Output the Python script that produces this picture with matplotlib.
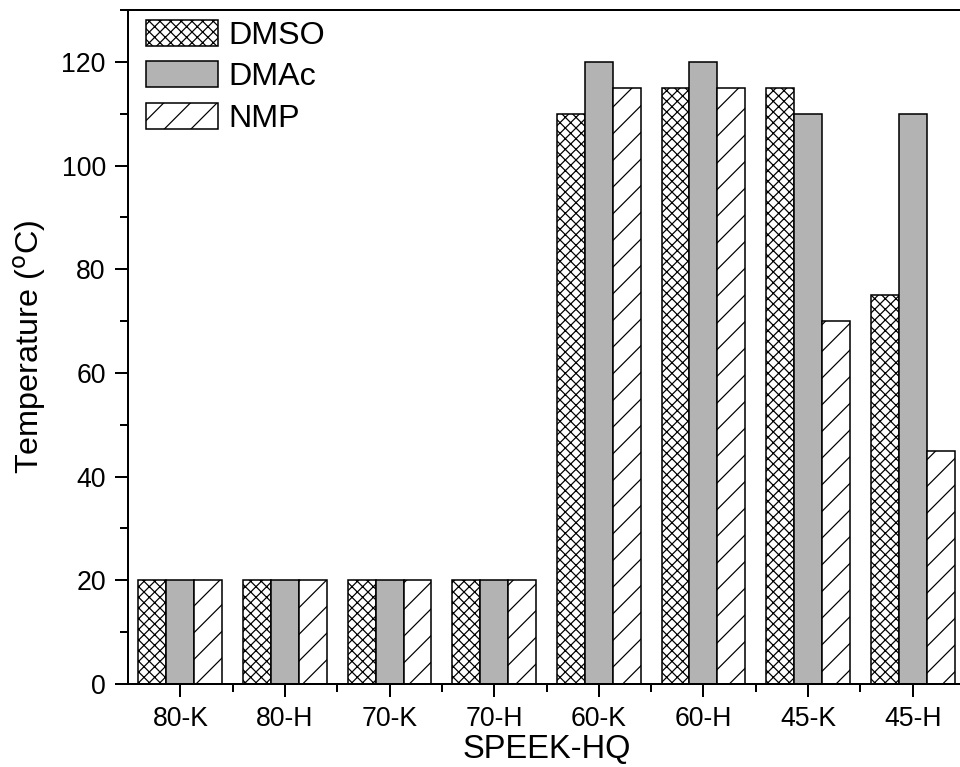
import matplotlib
matplotlib.use("Agg")
import matplotlib.pyplot as plt
import numpy as np
from matplotlib.ticker import MultipleLocator, FixedLocator

plt.rcParams['font.family'] = ['Liberation Sans', 'DejaVu Sans']
plt.rcParams['hatch.linewidth'] = 0.55

categories = ['80-K', '80-H', '70-K', '70-H', '60-K', '60-H', '45-K', '45-H']
dmso = [20, 20, 20, 20, 110, 115, 115, 75]
dmac = [20, 20, 20, 20, 120, 120, 110, 110]
nmp = [20, 20, 20, 20, 115, 115, 70, 45]
series_names = ['DMSO', 'DMAc', 'NMP']

dpi = 160
fig = plt.figure(figsize=(960 / dpi, 767 / dpi), dpi=dpi)
ax = fig.add_axes([128 / 960, (767 - 684) / 767, (965 - 128) / 960, (684 - 10) / 767])

x = np.arange(len(categories))
w = 0.8 / 3
styles = [dict(facecolor='white', hatch='xxxxx'),
          dict(facecolor='#b3b3b3', hatch=None),
          dict(facecolor='white', hatch='//')]
for i, (vals, name, st) in enumerate(zip([dmso, dmac, nmp], series_names, styles)):
    ax.bar(x + (i - 1) * w, vals, w, label=name, edgecolor='black', linewidth=0.7, **st)

ax.set_xlim(-0.5, len(categories) - 0.5)
ax.set_ylim(0, 130)
ax.set_xticks(x)
ax.set_xticklabels(categories)
ax.xaxis.set_minor_locator(FixedLocator(x[:-1] + 0.5))
ax.yaxis.set_major_locator(MultipleLocator(20))
ax.yaxis.set_minor_locator(MultipleLocator(10))
ax.tick_params(which='major', direction='out', length=6, width=0.9, labelsize=12, pad=4)
ax.tick_params(which='minor', direction='out', length=3.4, width=0.9)
for s in ax.spines.values():
    s.set_linewidth(0.9)

ax.set_xlabel('SPEEK-HQ', fontsize=14.7, labelpad=1)
ax.set_ylabel('Temperature ($^{\\mathrm{o}}$C)', fontsize=14.6, labelpad=6)

ax.legend(loc='upper left', bbox_to_anchor=(0.0096, 1.0), frameon=False, fontsize=14.5,
          handlelength=2.23, handleheight=0.87, handletextpad=0.33, labelspacing=0.32,
          borderaxespad=0.05, borderpad=0.25)

fig.savefig('out.png', dpi=dpi)
